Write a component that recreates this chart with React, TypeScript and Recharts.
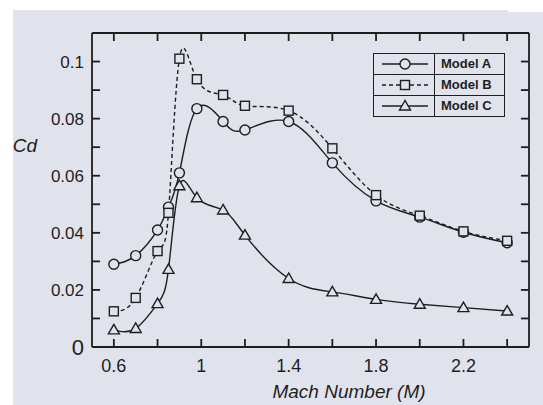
import React from "react"
import { LineChart, Line, XAxis, YAxis, Legend, Label, ReferenceLine } from "recharts"

const mach = [0.6, 0.7, 0.8, 0.85, 0.9, 0.98, 1.1, 1.2, 1.4, 1.6, 1.8, 2.0, 2.2, 2.4]
const modelA = [0.029, 0.032, 0.041, 0.049, 0.061, 0.0835, 0.079, 0.076, 0.079, 0.0645, 0.0512, 0.0455, 0.0402, 0.0365]
const modelB = [0.0125, 0.0172, 0.0336, 0.047, 0.101, 0.0938, 0.0883, 0.0845, 0.0828, 0.0696, 0.0532, 0.046, 0.0405, 0.0372]
const modelC = [0.006, 0.0065, 0.0152, 0.0272, 0.0565, 0.0523, 0.048, 0.0392, 0.024, 0.0193, 0.0167, 0.015, 0.0138, 0.0126]

const xTicks = [0.6, 0.8, 1, 1.2, 1.4, 1.6, 1.8, 2, 2.2, 2.4]
const xLabels = [0.6, 1, 1.4, 1.8, 2.2]
const yTicks = [0, 0.01, 0.02, 0.03, 0.04, 0.05, 0.06, 0.07, 0.08, 0.09, 0.1]
const yLabels = [0, 0.02, 0.04, 0.06, 0.08, 0.1]

const X_DOMAIN = [0.5, 2.5]
const Y_DOMAIN = [0, 0.11]

const data = mach.map((m, i) => ({ m, a: modelA[i], b: modelB[i], c: modelC[i] }))

const ink = "#1e1e1e"
const paper = "#e1e3ec"
const font = "'Liberation Sans', Arial, sans-serif"
const frame = { stroke: ink, strokeWidth: 1.8 }
// inward tick length (~8px) expressed in axis units
const XT = 0.037
const YT = 0.0028

// hollow markers
const circle = (cx: number, cy: number) => (
  <circle cx={cx} cy={cy} r={5} fill={paper} stroke={ink} strokeWidth={1.4} />
)
const square = (cx: number, cy: number) => (
  <rect x={cx - 4.5} y={cy - 4.5} width={9} height={9} fill={paper} stroke={ink} strokeWidth={1.4} />
)
const triangle = (cx: number, cy: number) => (
  <polygon
    points={`${cx},${cy - 5.5} ${cx - 5.5},${cy + 4} ${cx + 5.5},${cy + 4}`}
    fill={paper}
    stroke={ink}
    strokeWidth={1.4}
  />
)

const series = [
  { key: "a", name: "Model A", dash: undefined, marker: circle },
  { key: "b", name: "Model B", dash: "4 3", marker: square },
  { key: "c", name: "Model C", dash: undefined, marker: triangle },
]

const BottomTick = (p: any) =>
  xLabels.includes(p.payload.value) ? (
    <text x={p.x} y={p.y + 25} textAnchor="middle" fontSize={18} fill={ink} fontFamily={font}>
      {p.payload.value}
    </text>
  ) : (
    <g />
  )

const LeftTick = (p: any) => {
  const v = p.payload.value
  if (!yLabels.includes(v)) return <g />
  return (
    <text
      x={p.x - 8}
      y={p.y + (v === 0 ? 8 : 6)}
      textAnchor="end"
      fontSize={v === 0 ? 22 : 17}
      fill={ink}
      fontFamily={font}
    >
      {v}
    </text>
  )
}

const LegendBox = () => (
  <div
    style={{
      width: 130,
      border: `1.5px solid ${ink}`,
      background: paper,
      fontFamily: font,
      fontWeight: "bold",
      fontSize: 13,
      color: ink,
    }}
  >
    {series.map((s, i) => (
      <div key={s.key} style={{ display: "flex", height: 20, borderTop: i ? `1.5px solid ${ink}` : "none" }}>
        <div style={{ width: 60, borderRight: `1.5px solid ${ink}` }}>
          <svg width={60} height={20}>
            <line x1={8} x2={54} y1={10} y2={10} stroke={ink} strokeWidth={1.3} strokeDasharray={s.dash} />
            {s.marker(31, 10)}
          </svg>
        </div>
        <div style={{ paddingLeft: 6, lineHeight: "20px" }}>{s.name}</div>
      </div>
    ))}
  </div>
)

const tickMark = (key: string, a: { x: number; y: number }, b: { x: number; y: number }) => (
  <ReferenceLine
    key={key}
    xAxisId="b"
    yAxisId="l"
    segment={[a, b]}
    stroke={ink}
    strokeWidth={1.8}
    ifOverflow="visible"
  />
)

export default function App() {
  return (
    <div style={{ position: "absolute", left: 0, top: 0, width: 543, height: 405, background: "#fff" }}>
      <div style={{ position: "absolute", left: 13, top: 10, right: 0, bottom: 0, background: paper }} />
      <div style={{ position: "absolute", left: 508, top: 0, width: 35, height: 12, background: "#fff" }} />
      <div style={{ position: "absolute", left: 0, top: 0 }}>
        <LineChart width={543} height={405} data={data} margin={{ top: 32, right: 13, bottom: 18, left: 32 }}>
          <XAxis
            xAxisId="b"
            dataKey="m"
            type="number"
            domain={X_DOMAIN}
            ticks={xTicks}
            interval={0}
            tick={<BottomTick />}
            tickLine={false}
            tickSize={0}
            tickMargin={0}
            height={40}
            axisLine={frame}
          >
            <Label
              content={() => (
                <text x={349} y={398} textAnchor="middle" fontSize={19} fontStyle="italic" fill={ink} fontFamily={font}>
                  Mach Number (M)
                </text>
              )}
            />
          </XAxis>
          <XAxis
            xAxisId="t"
            orientation="top"
            dataKey="m"
            type="number"
            domain={X_DOMAIN}
            ticks={xTicks}
            tick={false}
            tickLine={false}
            height={1}
            axisLine={frame}
          />
          <YAxis
            yAxisId="l"
            type="number"
            domain={Y_DOMAIN}
            ticks={yTicks}
            interval={0}
            tick={<LeftTick />}
            tickLine={false}
            tickSize={0}
            tickMargin={0}
            width={60}
            axisLine={frame}
          >
            <Label
              content={() => (
                <text x={25} y={152} textAnchor="middle" fontSize={19} fontStyle="italic" fill={ink} fontFamily={font}>
                  Cd
                </text>
              )}
            />
          </YAxis>
          <YAxis
            yAxisId="r"
            orientation="right"
            type="number"
            domain={Y_DOMAIN}
            ticks={yTicks}
            tick={false}
            tickLine={false}
            width={1}
            axisLine={frame}
          />
          {xTicks.map((t) => tickMark(`xb${t}`, { x: t, y: Y_DOMAIN[0] }, { x: t, y: Y_DOMAIN[0] + YT }))}
          {xTicks.map((t) => tickMark(`xt${t}`, { x: t, y: Y_DOMAIN[1] }, { x: t, y: Y_DOMAIN[1] - YT }))}
          {yTicks.map((t) => tickMark(`yl${t}`, { x: X_DOMAIN[0], y: t }, { x: X_DOMAIN[0] + XT, y: t }))}
          {yTicks.map((t) => tickMark(`yr${t}`, { x: X_DOMAIN[1], y: t }, { x: X_DOMAIN[1] - XT, y: t }))}
          {series.map((s) => (
            <Line
              key={s.key}
              xAxisId="b"
              yAxisId="l"
              type="natural"
              dataKey={s.key}
              name={s.name}
              stroke={ink}
              strokeWidth={1.4}
              strokeDasharray={s.dash}
              dot={(p: any) => <g key={`${s.key}-${p.index}`}>{s.marker(p.cx, p.cy)}</g>}
              activeDot={false}
              isAnimationActive={false}
            />
          ))}
          <Legend
            layout="vertical"
            align="center"
            verticalAlign="middle"
            content={<LegendBox />}
            wrapperStyle={{ left: 373, top: 53, width: 130 }}
          />
        </LineChart>
      </div>
    </div>
  )
}
